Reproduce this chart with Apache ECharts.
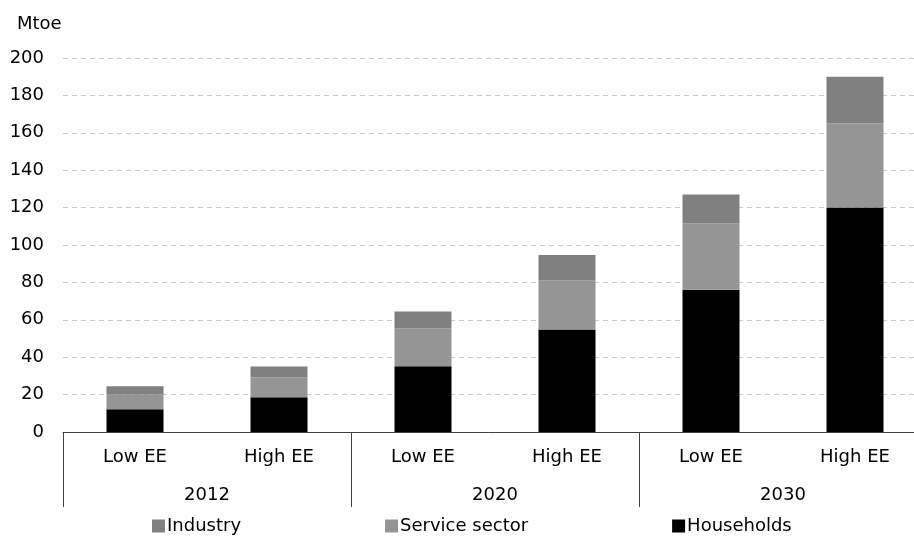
<!DOCTYPE html>
<html>
<head>
<meta charset="utf-8">
<script src="https://cdn.jsdelivr.net/npm/echarts@6/dist/echarts.min.js"></script>
<style>
  html, body { margin: 0; padding: 0; background: #fff; }
  #main { width: 914px; height: 540px; }
</style>
</head>
<body>
<div id="main"></div>
<script>
// scenario bars, grouped by year
const scenarios = ['Low EE', 'High EE', 'Low EE', 'High EE', 'Low EE', 'High EE']
const years = ['2012', '2020', '2030']
const yTicks = [0, 20, 40, 60, 80, 100, 120, 140, 160, 180, 200]

// Mtoe
const households = [12.1, 18.6, 35.1, 54.8, 76.1, 120]
const serviceSector = [8.1, 10.7, 20.4, 26.3, 35.5, 45]
const industry = [4.3, 5.7, 9.0, 13.6, 15.4, 25]

const font = 'DejaVu Sans, Verdana, sans-serif'
const txt = { fontFamily: font, fontSize: 18, color: '#000' }

const myChart = echarts.init(document.getElementById('main'))

const option = {
  animation: false,
  title: {
    text: 'Mtoe',
    left: 12,
    top: 10,
    textStyle: { fontFamily: font, fontSize: 18, fontWeight: 'normal', color: '#000' }
  },
  // plot runs past the right edge, last group is cut off like in the source
  grid: { left: 63, width: 864, top: 58, bottom: 108, containLabel: false, outerBoundsMode: 'none' },
  legend: {
    data: ['Industry', 'Service sector', 'Households'],
    left: 147,
    bottom: 0,
    itemWidth: 13,
    itemHeight: 13,
    itemGap: 144,
    icon: 'rect',
    textStyle: { fontFamily: font, fontSize: 18, color: '#000', padding: [0, 0, 0, -3] }
  },
  xAxis: [{
    type: 'category',
    data: scenarios,
    axisLine: { lineStyle: { color: '#404040', width: 1 } },
    axisTick: { show: false },
    axisLabel: Object.assign({ margin: 16, interval: 0 }, txt)
  }, {
    type: 'category',
    data: years,
    position: 'bottom',
    axisLine: { show: false },
    axisTick: { show: true, length: 75, lineStyle: { color: '#404040', width: 1 } },
    axisLabel: Object.assign({ margin: 54, interval: 0 }, txt)
  }],
  yAxis: {
    type: 'value',
    min: yTicks[0],
    max: yTicks[yTicks.length - 1],
    interval: 20,
    axisLine: { show: false },
    axisTick: { show: false },
    axisLabel: Object.assign({ margin: 19 }, txt),
    splitLine: { lineStyle: { color: '#c8c8c8', type: [5, 4], width: 1 } }
  },
  series: [{
    name: 'Households',
    type: 'bar',
    stack: 'total',
    barWidth: 57,
    itemStyle: { color: '#000000' },
    data: households
  }, {
    name: 'Service sector',
    type: 'bar',
    stack: 'total',
    barWidth: 57,
    itemStyle: { color: '#959595' },
    data: serviceSector
  }, {
    name: 'Industry',
    type: 'bar',
    stack: 'total',
    barWidth: 57,
    itemStyle: { color: '#808080' },
    data: industry
  }]
}

myChart.setOption(option)
</script>
</body>
</html>
